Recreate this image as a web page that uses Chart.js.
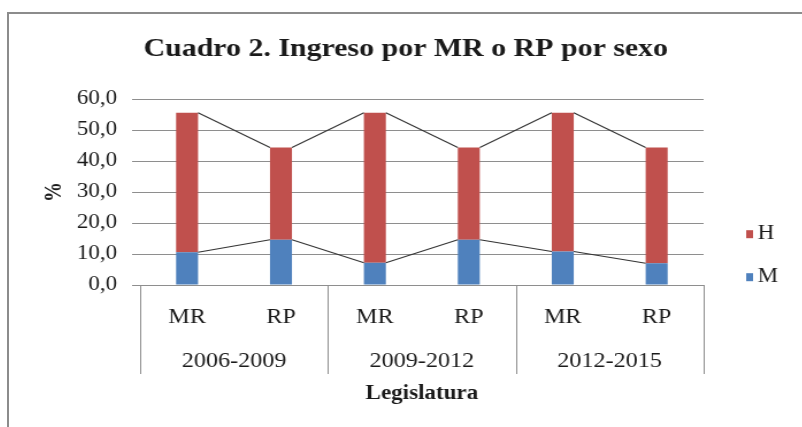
<!DOCTYPE html>
<html>
<head>
<meta charset="utf-8">
<script src="https://cdn.jsdelivr.net/npm/chart.js@4"></script>
<style>
  html, body { margin: 0; padding: 0; background: #fff; overflow: hidden; }
  #frame { position: absolute; left: 7px; top: 12px; width: 795px; height: 415px;
           border-left: 2px solid #8c8c8c; border-top: 2px solid #8c8c8c; overflow: hidden; }
  #stretch { position: absolute; left: 0; top: 0; transform: scaleX(1.15); transform-origin: 0 0; }
</style>
</head>
<body>
<div id="frame"><div id="stretch"><canvas id="chart1" width="690" height="413"></canvas></div></div>
<script>
// data
const categories = ['MR', 'RP', 'MR', 'RP', 'MR', 'RP'];
const legislaturas = ['2006-2009', '2009-2012', '2012-2015'];
const mujeres = [10.6, 14.6, 7.2, 14.6, 10.8, 7.0];
const hombres = [45.0, 29.8, 48.4, 29.8, 44.8, 37.4];
const yTicks = [0, 10, 20, 30, 40, 50, 60];

const serif = '"Liberation Serif", "Times New Roman", serif';
const gridColor = '#8e8e8e';
const colorH = '#c0504d';
const colorM = '#4f81bd';

// Excel style series lines between stacked bars
const seriesLines = {
    id: 'seriesLines',
    afterDatasetsDraw(chart) {
        const ctx = chart.ctx;
        ctx.save();
        ctx.strokeStyle = '#333';
        ctx.lineWidth = 1.1;
        chart.data.datasets.forEach((ds, i) => {
            const bars = chart.getDatasetMeta(i).data;
            ctx.beginPath();
            for (let j = 0; j < bars.length - 1; j++) {
                const a = bars[j], b = bars[j + 1];
                ctx.moveTo(a.x + a.width / 2, a.y);
                ctx.lineTo(b.x - b.width / 2, b.y);
            }
            ctx.stroke();
        });
        ctx.restore();
    }
};

// vertical separators of the two level category axis
const groupLines = {
    id: 'groupLines',
    afterDraw(chart) {
        const ctx = chart.ctx;
        const xs = chart.scales.x;
        const area = chart.chartArea;
        const bottom = chart.scales.x2.top + 45;
        const per = categories.length / legislaturas.length;
        const xsPos = [area.left];
        for (let g = 1; g < legislaturas.length; g++) {
            xsPos.push((xs.getPixelForValue(g * per - 1) + xs.getPixelForValue(g * per)) / 2);
        }
        xsPos.push(area.right);
        ctx.save();
        ctx.strokeStyle = gridColor;
        ctx.lineWidth = 1;
        ctx.beginPath();
        xsPos.forEach(x => {
            const px = Math.round(x) + 0.5;
            ctx.moveTo(px, area.bottom);
            ctx.lineTo(px, bottom);
        });
        ctx.stroke();
        ctx.restore();
    }
};

// legend at the right, H above M
const sideLegend = {
    id: 'sideLegend',
    afterDraw(chart) {
        const ctx = chart.ctx;
        const area = chart.chartArea;
        const x = area.right + 37;
        const items = [
            { text: 'H', color: colorH, y: area.top + 135 },
            { text: 'M', color: colorM, y: area.top + 178 }
        ];
        ctx.save();
        ctx.font = '20px ' + serif;
        ctx.textBaseline = 'middle';
        items.forEach(it => {
            ctx.fillStyle = it.color;
            ctx.fillRect(x, it.y - 4, 6, 8);
            ctx.fillStyle = '#1a1a1a';
            ctx.fillText(it.text, x + 10, it.y);
        });
        ctx.restore();
    }
};

new Chart(document.getElementById('chart1'), {
    type: 'bar',
    data: {
        labels: categories,
        datasets: [
            { label: 'M', data: mujeres, backgroundColor: colorM, barPercentage: 0.234, categoryPercentage: 1 },
            { label: 'H', data: hombres, backgroundColor: colorH, barPercentage: 0.234, categoryPercentage: 1 }
        ]
    },
    options: {
        responsive: false,
        animation: false,
        layout: { padding: 0 },
        plugins: {
            legend: { display: false },
            tooltip: { enabled: false },
            title: {
                display: true,
                text: 'Cuadro 2. Ingreso por MR o RP por sexo',
                color: '#1a1a1a',
                font: { family: serif, size: 26, weight: 'bold' },
                padding: { top: 20, bottom: 34 }
            }
        },
        scales: {
            x: {
                stacked: true,
                afterFit(scale) { scale.height = 44; },
                grid: { display: false, drawTicks: false },
                border: { display: false },
                ticks: { color: '#1a1a1a', font: { family: serif, size: 21 }, padding: 20, maxRotation: 0 }
            },
            x2: {
                type: 'category',
                position: 'bottom',
                labels: legislaturas,
                offset: true,
                weight: 1,
                afterFit(scale) { scale.height = 98; },
                grid: { display: false, drawTicks: false },
                border: { display: false },
                ticks: { color: '#1a1a1a', font: { family: serif, size: 21 }, padding: 20, maxRotation: 0 },
                title: {
                    display: true,
                    text: 'Legislatura',
                    color: '#1a1a1a',
                    font: { family: serif, size: 20, weight: 'bold' },
                    padding: { top: 8, bottom: 21 }
                }
            },
            y: {
                stacked: true,
                min: yTicks[0],
                max: yTicks[yTicks.length - 1],
                afterFit(scale) { scale.width = 114; },
                afterBuildTicks(scale) { scale.ticks = yTicks.map(v => ({ value: v })); },
                grid: { color: gridColor, lineWidth: 1, tickLength: 7 },
                border: { display: false },
                ticks: {
                    autoSkip: false,
                    color: '#1a1a1a',
                    font: { family: serif, size: 20 },
                    padding: 13,
                    callback: v => v.toFixed(1).replace('.', ',')
                },
                title: {
                    display: true,
                    text: '%',
                    color: '#1a1a1a',
                    font: { family: serif, size: 20, weight: 'bold' },
                    padding: { top: 28, bottom: 0 }
                }
            },
            yRight: {
                type: 'linear',
                position: 'right',
                afterFit(scale) { scale.width = 86; },
                grid: { display: false },
                border: { display: false },
                ticks: { display: false }
            }
        }
    },
    plugins: [seriesLines, groupLines, sideLegend]
});
</script>
</body>
</html>
